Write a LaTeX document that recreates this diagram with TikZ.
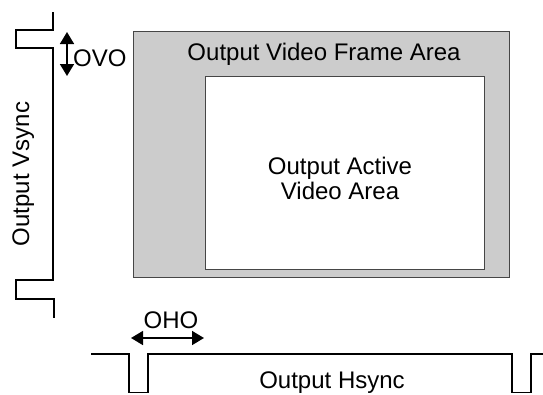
\documentclass[tikz,border=0pt]{standalone}
\usepackage{fontspec}
\setmainfont{Liberation Sans}
\usetikzlibrary{arrows.meta}
\definecolor{framegray}{RGB}{204,204,204}
\definecolor{edgegray}{RGB}{70,70,70}
\begin{document}
\begin{tikzpicture}[x=1pt,y=-1pt,
  lbl/.style={inner sep=0pt,font=\fontsize{24}{25}\selectfont},
  sig/.style={line width=1.8pt,line join=miter},
  dim/.style={line width=1.6pt,{Triangle[length=12pt,width=14pt]}-{Triangle[length=12pt,width=14pt]}},
  areabox/.style={draw=edgegray,line width=0.9pt,inner sep=0pt}]
\useasboundingbox (0,0) rectangle (543,394);
% video frame
\node[areabox,fill=framegray,minimum width=376pt,minimum height=246pt] (frame) at (321,154) {};
\node[areabox,fill=white,minimum width=279pt,minimum height=193pt] (active) at (344.5,172.5) {};
\node[lbl,anchor=base] (frametxt) at (324,60) {Output Video Frame Area};
\node[lbl,anchor=north,align=center] (activetxt) at (340,156.5) {Output Active\\Video Area};
% vsync
\coordinate (v0) at (53,12);
\coordinate (v1) at (54,318);
\draw[sig] (v0) -- (53,30) -- (16,30) -- (16,48) -- (53,48) -- (53,280) -- (16,280) -- (16,299) -- (54,299) -- (v1);
\node[lbl,rotate=90,anchor=base] (vsynctxt) at (29,174) {Output Vsync};
% OVO
\coordinate (ovoA) at (67,32);
\coordinate (ovoB) at (67,76);
\draw[dim] (ovoA) -- (ovoB);
\node[lbl,anchor=west] (ovotxt) at (73,58) {OVO};
% hsync
\coordinate (h0) at (91,354);
\coordinate (h1) at (543,354);
\draw[sig] (h0) -- (129,354) -- (129,392.5) -- (148,392.5) -- (148,354) -- (512,354) -- (512,392.5) -- (531,392.5) -- (531,354) -- (h1);
\node[lbl,anchor=base] (hsynctxt) at (332,388) {Output Hsync};
% OHO
\coordinate (ohoA) at (131,338);
\coordinate (ohoB) at (204,338);
\draw[dim] (ohoA) -- (ohoB);
\node[lbl] (ohotxt) at (171,320) {OHO};
\end{tikzpicture}
\end{document}
